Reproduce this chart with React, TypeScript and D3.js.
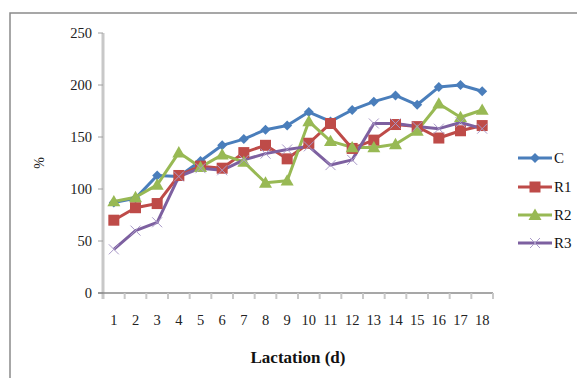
import React from "react";
import * as d3 from "d3";

const categories = ["1","2","3","4","5","6","7","8","9","10","11","12","13","14","15","16","17","18"];
const seriesC = [87, 91, 113, 112, 127, 142, 148, 157, 161, 174, 165, 176, 184, 190, 181, 198, 200, 194];
const seriesR1 = [70, 82, 86, 113, 122, 120, 135, 142, 129, 144, 163, 139, 147, 162, 160, 149, 156, 161];
const seriesR2 = [88, 92, 104, 135, 121, 133, 126, 106, 108, 165, 146, 140, 140, 143, 156, 182, 169, 176];
const seriesR3 = [42, 60, 68, 112, 120, 118, 128, 134, 138, 141, 123, 128, 163, 163, 160, 158, 164, 158];
const yTicks = [0, 50, 100, 150, 200, 250];

const seriesNames = ["C", "R1", "R2", "R3"];
const seriesColors = ["#4A7EBB", "#BE4B48", "#98B954", "#7D60A0"];
const seriesData = [seriesC, seriesR1, seriesR2, seriesR3];

const W = 577, H = 378;
const left = 103, right = 493, top = 33, bottom = 293;
const font = "'Liberation Serif', 'Times New Roman', serif";

function Marker({ kind, x, y, color }: { kind: number; x: number; y: number; color: string }) {
  if (kind === 0) {
    const s = 5;
    return <path d={`M${x},${y - s}L${x + s},${y}L${x},${y + s}L${x - s},${y}Z`} fill={color} />;
  }
  if (kind === 1) {
    const s = 5.5;
    return <rect x={x - s} y={y - s} width={2 * s} height={2 * s} fill={color} />;
  }
  if (kind === 2) {
    const s = 6.5;
    return <path d={`M${x},${y - s}L${x + s},${y + s * 0.75}L${x - s},${y + s * 0.75}Z`} fill={color} />;
  }
  const s = 5;
  return (
    <path d={`M${x - s},${y - s}L${x + s},${y + s}M${x - s},${y + s}L${x + s},${y - s}`} stroke="#A999C8" strokeWidth={1} fill="none" />
  );
}

export default function App() {
  const x = d3.scaleBand<string>().domain(categories).range([left, right]);
  const y = d3.scaleLinear().domain([0, 250]).range([bottom, top]);
  const line = d3.line<number>()
    .x((_, i) => (x(categories[i]) as number) + x.bandwidth() / 2)
    .y((d) => y(d));

  const legendY = [158, 187, 215, 243];

  return (
    <svg width={W} height={H} style={{ position: "absolute", left: 0, top: 0, background: "#fff" }} fontFamily={font}>
      <rect x={10} y={13} width={W} height={H} fill="#fff" stroke="#8a8a8a" strokeWidth={1.5} />
      {/* y axis */}
      <line x1={left} x2={left} y1={top} y2={bottom + 6} stroke="#c8c8c8" strokeWidth={3} />
      {yTicks.map((t) => (
        <g key={t}>
          <line x1={left - 5} x2={left} y1={y(t)} y2={y(t)} stroke="#a0a0a0" strokeWidth={1} />
          <text x={92} y={y(t)} dy="0.35em" textAnchor="end" fontSize={14.5} fill="#222">{t}</text>
        </g>
      ))}
      {/* x axis */}
      <line x1={98} x2={right} y1={bottom} y2={bottom} stroke="#8a8a8a" strokeWidth={1.5} />
      {categories.map((c, i) => (
        <line key={"t" + c} x1={left + x.step() * (i + 1)} x2={left + x.step() * (i + 1)} y1={bottom} y2={bottom + 6} stroke="#c8c8c8" strokeWidth={2} />
      ))}
      {categories.map((c) => (
        <text key={c} x={(x(c) as number) + x.bandwidth() / 2} y={325} textAnchor="middle" fontSize={14.5} fill="#222">{c}</text>
      ))}
      <text x={298} y={363} textAnchor="middle" fontSize={17} fontWeight="bold" fill="#111">Lactation (d)</text>
      <text transform="translate(44,163) rotate(-90)" textAnchor="middle" fontSize={14} fill="#222">%</text>
      {/* series */}
      {seriesData.map((s, k) => (
        <path key={"l" + k} d={line(s) || ""} fill="none" stroke={seriesColors[k]} strokeWidth={3} strokeLinejoin="round" />
      ))}
      {seriesData.map((s, k) =>
        s.map((v, i) => (
          <Marker key={k + "-" + i} kind={k} x={(x(categories[i]) as number) + x.bandwidth() / 2} y={y(v)} color={seriesColors[k]} />
        ))
      )}
      {/* legend */}
      {seriesNames.map((n, k) => (
        <g key={n}>
          <line x1={518} x2={552} y1={legendY[k]} y2={legendY[k]} stroke={seriesColors[k]} strokeWidth={3} />
          <Marker kind={k} x={535} y={legendY[k]} color={seriesColors[k]} />
          <text x={554} y={legendY[k]} dy="0.35em" fontSize={15} fill="#111">{n}</text>
        </g>
      ))}
    </svg>
  );
}
